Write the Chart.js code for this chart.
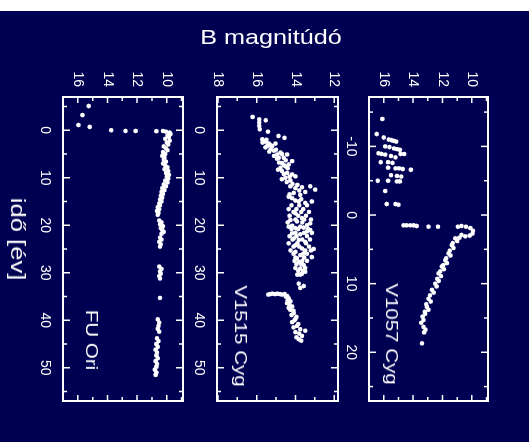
<!DOCTYPE html>
<html>
<head>
<meta charset="utf-8">
<script src="https://cdn.jsdelivr.net/npm/chart.js@4.4.0/dist/chart.umd.min.js"></script>
<style>
body { margin: 0; background: #fff; }
#stage { position: relative; width: 529px; height: 442px; overflow: hidden; }
#bg { position: absolute; left: 0; top: 11px; width: 529px; height: 431px; background: #000052; }
.panel { position: absolute; left: 0; top: 0; transform-origin: 0 0; }
.lbl { position: absolute; color: #fff; font-family: 'Liberation Sans', Arial, sans-serif; white-space: nowrap; line-height: 1; }
.rot { transform: translate(-50%, -50%) rotate(90deg) scaleX(1.28); }
</style>
</head>
<body>
<div id="stage">
  <div id="bg"></div>
  <canvas id="fuOri" class="panel" width="347" height="160" style="transform: translate(188px, 57px) rotate(90deg)"></canvas>
  <canvas id="v1515" class="panel" width="347" height="160" style="transform: translate(343px, 57px) rotate(90deg)"></canvas>
  <canvas id="v1057" class="panel" width="347" height="160" style="transform: translate(493px, 57px) rotate(90deg)"></canvas>
  <div class="lbl" style="left: 271px; top: 36px; font-size: 21px; transform: translate(-50%, -50%) scaleX(1.2)">B magnitúdó</div>
  <div class="lbl rot" style="left: 18px; top: 239px; font-size: 20px">idő [év]</div>
  <div class="lbl rot" style="left: 91px; top: 340px; font-size: 16px">FU Ori</div>
  <div class="lbl rot" style="left: 240px; top: 336px; font-size: 16px">V1515 Cyg</div>
  <div class="lbl rot" style="left: 391px; top: 334px; font-size: 16px">V1057 Cyg</div>
</div>
<script>
// tick values
const timeTicks = [0, 10, 20, 30, 40, 50];
const timeMinor = [-5, 5, 15, 25, 35, 45, 55];
const v1057TimeTicks = [-10, 0, 10, 20];
const v1057TimeMinor = [-15, -5, 5, 15, 25];
const magTicks = [16, 14, 12, 10];
const magMinor = [17, 15, 13, 11, 9];
const v1515MagTicks = [18, 16, 14, 12];
const v1515MagMinor = [17, 15, 13];

// FU Ori: years, B magnitude
const fuOriYears = [-5.1, -3.2, -1.1, -0.7, 0.0, 0.15, 0.15, 0.2, 0.15,
  0.3, 0.5, 0.8, 1.1, 1.4, 1.8, 2.2, 2.6, 3.0, 3.4, 3.8, 4.2, 4.6, 5.0, 5.4, 5.8, 6.2, 6.6, 7.0, 7.4, 7.8,
  8.2, 8.6, 9.0, 9.4, 9.8, 10.2, 10.6, 11.0, 11.4, 11.8, 12.2, 12.6, 13.0, 13.4, 13.8, 14.2, 14.6, 15.0,
  15.4, 15.8, 16.2, 16.6, 17.0, 17.4, 17.8, 19.0, 19.4, 19.8, 20.2, 20.6, 21.0, 21.4, 21.8, 22.6, 23.0,
  23.5, 24.0, 24.5, 28.7, 29.2, 29.7, 30.2, 30.7, 31.2, 35.3, 39.8, 40.5, 41.2, 41.8, 42.4, 43.8, 44.4,
  45.0, 45.6, 46.2, 46.8, 47.4, 48.0, 48.6, 49.2, 49.8, 50.4, 51.0, 51.5];
const fuOriMag = [15.27, 15.69, 15.96, 15.2, 13.75, 12.78, 12.1, 10.7, 10.25,
  10.05, 9.8, 9.75, 9.95, 9.85, 10.1, 9.8, 10.0, 9.9, 10.2, 10.05, 9.95, 10.25, 10.1, 10.3, 10.15, 10.2, 10.05, 10.25, 10.1, 9.95,
  10.15, 9.9, 10.05, 9.85, 10.0, 9.9, 10.1, 9.95, 10.2, 10.05, 10.3, 10.15, 10.35, 10.25, 10.4, 10.3, 10.45, 10.35,
  10.5, 10.45, 10.6, 10.5, 10.65, 10.55, 10.6, 10.5, 10.35, 10.45, 10.25, 10.4, 10.3, 10.2, 10.35, 10.45, 10.35,
  10.5, 10.4, 10.45, 10.5, 10.35, 10.45, 10.4, 10.5, 10.45, 10.45, 10.6, 10.5, 10.55, 10.6, 10.5, 10.65, 10.55,
  10.7, 10.6, 10.75, 10.65, 10.7, 10.6, 10.75, 10.65, 10.7, 10.8, 10.7, 10.75];

// V1515 Cyg
const v1515Years = [-2.8, -2.3, -1.6, -0.9, -0.2, -2.1, 0.3, 1.2, 1.6,
  1.9, 2.4, 2.8, 3.3, 2.8, 3.3, 4.0, 4.3, 5.1, 4.7, 5.8, 5.8, 5.1, 6.9, 7.6, 7.9, 7.2, 6.5,
  2.0, 2.6, 3.1, 3.6, 4.1, 4.5, 5.0, 5.4, 6.0, 6.3, 6.8, 7.3, 8.0, 8.3,
  8.6, 9.0, 9.3, 10.0, 9.7, 10.6, 9.2, 9.8, 10.3, 10.9, 11.3, 11.5,
  11.8, 12.2, 12.0, 11.8, 12.5, 13.2, 13.6, 13.0, 14.3, 15.0, 15.3, 15.0, 14.0, 12.7, 13.5, 14.5, 14.8,
  15.8, 15.8, 15.8, 16.6, 16.6, 16.6, 17.2, 17.2, 17.2, 17.5, 18.0, 18.0, 18.0, 18.5, 18.8, 18.8, 18.8, 18.9, 19.2,
  19.4, 19.4, 19.6, 20.0, 20.1, 20.3, 20.3, 20.5, 20.6, 20.8, 20.8, 20.8, 21.0, 21.3, 21.6, 21.6, 21.6, 21.7, 21.9,
  22.3, 22.3, 22.3, 22.8, 23.0, 23.0, 23.0, 23.1, 23.5, 23.8, 23.8, 23.8, 24.2, 24.5, 24.5, 24.5, 24.9, 25.0,
  25.3, 25.3, 25.3, 25.6, 26.0, 26.0, 26.0, 26.3, 26.7, 26.8, 26.8, 27.0, 27.5, 27.5, 27.5, 27.7, 28.2, 28.2, 28.4,
  29.0, 29.0, 29.1, 29.6, 29.6, 29.8, 30.2, 30.4, 30.4, 32.3, 32.8, 33.2,
  34.6, 34.4, 34.4, 34.6, 34.9, 34.5, 34.5, 34.5, 34.5,
  35.0, 35.4, 35.8, 36.0, 36.4, 36.8, 37.1, 37.4, 37.8, 38.0, 38.5, 38.9, 39.3, 39.7, 40.0, 40.4, 40.8,
  41.2, 41.5, 41.9, 42.2, 42.5, 42.8, 43.3, 43.6, 44.0, 44.3];
const v1515Mag = [16.21, 15.87, 15.87, 15.87, 15.84, 15.53, 15.42, 14.87, 14.56,
  15.71, 15.54, 15.37, 15.2, 15.03, 15.46, 15.28, 15.11, 14.94, 14.77, 14.86, 14.6, 14.43, 14.69, 14.51, 14.77, 14.35, 14.17,
  15.5, 15.7, 15.3, 15.55, 15.0, 15.35, 14.7, 15.1, 14.95, 14.5, 14.85, 14.6, 14.4, 14.9,
  14.69, 14.43, 14.17, 14.51, 14.0, 14.26, 14.6, 14.3, 14.7, 14.45, 14.15, 13.9,
  14.26, 14.0, 13.66, 13.23, 12.98, 14.09, 13.75, 13.49, 14.17, 13.83, 13.49, 13.15, 14.35, 13.8, 14.3, 13.7, 14.0,
  14.2, 13.8, 13.4, 14.35, 13.95, 13.6, 14.1, 13.7, 13.3, 14.0, 14.3, 13.85, 13.45, 13.66, 14.0, 13.55, 13.2, 14.26, 13.92,
  14.4, 13.65, 13.23, 13.4, 14.17, 13.75, 14.35, 13.57, 14.0, 14.2, 13.85, 13.35, 13.23, 13.4, 14.0, 13.55, 13.15, 14.17, 13.75,
  14.3, 13.95, 13.4, 14.09, 14.15, 13.65, 13.25, 13.83, 13.49, 14.35, 13.9, 13.45, 14.0, 14.1, 13.8, 13.3, 13.66, 13.06,
  14.25, 13.5, 13.2, 14.0, 14.1, 13.6, 13.4, 13.75, 13.15, 14.0, 13.55, 13.92, 14.05, 13.65, 13.4, 13.83, 13.95, 13.7, 13.57,
  14.0, 13.5, 13.75, 13.85, 13.6, 13.49, 13.66, 13.9, 13.75, 13.83, 13.57, 13.75,
  15.4, 15.2, 14.94, 14.69, 14.43, 15.3, 15.05, 14.8, 14.55,
  14.5, 14.35, 14.4, 14.25, 14.43, 14.3, 14.17, 14.35, 14.26, 14.1, 14.09, 14.2, 13.95, 14.0, 14.05, 14.17, 13.85,
  13.92, 14.1, 13.75, 13.49, 14.0, 13.8, 13.66, 13.95, 13.83, 13.7];

// V1057 Cyg
const v1057Years = [-14.0, -11.8, -11.3, -11.0, -10.9, -10.8, -10.7, -10.0, -9.9, -9.7, -9.6, -9.5,
  -9.0, -8.9, -8.8, -8.6, -8.4, -8.9, -8.9, -7.7, -7.7, -7.6, -6.9, -6.8, -6.8, -6.7, -6.6,
  -5.8, -5.7, -5.6, -5.0, -5.0, -4.9, -4.9, -3.5, -1.6, -1.6, -1.5,
  1.5, 1.5, 1.5, 1.5, 1.6, 1.7, 1.7,
  1.7, 1.6, 1.7, 1.9, 2.3, 2.7, 3.0, 3.1, 2.9, 3.3,
  3.4, 3.8, 4.1, 4.4, 4.8, 5.2, 5.6, 5.9, 6.3, 6.6, 7.0, 7.3, 7.5, 7.9, 8.2, 8.5, 8.9, 9.3, 9.6, 10.0,
  10.4, 10.9, 11.3, 11.7, 12.2, 12.6, 13.0, 13.4, 13.8, 14.1, 14.4, 14.8, 15.3, 15.7, 16.3, 16.7, 17.1, 18.7];
const v1057Mag = [16.09, 16.48, 16.0, 15.65, 15.45, 15.3, 15.15, 15.9, 15.6, 15.3, 15.1, 14.9,
  16.35, 16.15, 15.9, 15.5, 15.2, 14.85, 14.6, 16.2, 15.7, 15.4, 15.7, 15.2, 14.95, 14.7, 14.15,
  15.5, 15.1, 14.8, 16.4, 15.7, 15.1, 14.9, 15.9, 15.8, 15.2, 15.0,
  14.65, 14.45, 14.2, 13.95, 13.75, 12.95, 12.3,
  10.95, 10.7, 10.4, 10.1, 9.92, 9.95, 10.15, 10.45, 10.7, 10.85,
  11.13, 11.0, 11.3, 11.36, 11.25, 11.5, 11.59, 11.45, 11.75, 11.81, 11.7, 11.95, 12.04, 11.9, 12.15, 12.27, 12.1, 12.35, 12.25, 12.49,
  12.4, 12.72, 12.6, 12.85, 12.95, 12.8, 13.1, 13.06, 12.95, 13.2, 13.17, 13.35, 13.29, 13.45, 13.29, 13.15, 13.25, 13.39];

// frame with inward ticks on all four sides
const framePlugin = {
  id: 'frame',
  afterDraw(chart, args, opts) {
    const { ctx, chartArea: a, scales: { x, y } } = chart;
    ctx.save();
    ctx.strokeStyle = '#fff';
    ctx.lineWidth = 2;
    ctx.strokeRect(a.left, a.top, a.right - a.left, a.bottom - a.top);
    ctx.lineWidth = 1.5;
    ctx.beginPath();
    const xTick = (v, len) => {
      const px = x.getPixelForValue(v);
      ctx.moveTo(px, a.top); ctx.lineTo(px, a.top + len);
      ctx.moveTo(px, a.bottom); ctx.lineTo(px, a.bottom - len);
    };
    const yTick = (v, len) => {
      const py = y.getPixelForValue(v);
      ctx.moveTo(a.left, py); ctx.lineTo(a.left + len, py);
      ctx.moveTo(a.right, py); ctx.lineTo(a.right - len, py);
    };
    opts.xMajor.forEach(v => xTick(v, 7));
    opts.xMinor.forEach(v => xTick(v, 4));
    opts.yMajor.forEach(v => yTick(v, 6));
    opts.yMinor.forEach(v => yTick(v, 4));
    ctx.stroke();
    ctx.restore();
  }
};

function makePanel(id, years, mags, xMin, xMax, xTicks, xMinor, yMin, yMax, yTicks, yMinor, xh) {
  const points = years.map((t, i) => ({ x: t, y: mags[i] }));
  const tickFont = { family: "'Liberation Sans', Arial, sans-serif", size: 14 };
  return new Chart(document.getElementById(id), {
    type: 'scatter',
    data: {
      datasets: [{
        data: points,
        backgroundColor: '#fff',
        borderWidth: 0,
        pointRadius: 2.3,
        pointHoverRadius: 2.3
      }]
    },
    options: {
      responsive: false,
      animation: false,
      events: [],
      layout: { padding: { top: 5, right: 3, left: 0, bottom: 0 } },
      plugins: {
        legend: { display: false },
        tooltip: { enabled: false },
        frame: { xMajor: xTicks, xMinor: xMinor, yMajor: yTicks, yMinor: yMinor }
      },
      scales: {
        x: {
          type: 'linear',
          min: xMin,
          max: xMax,
          grid: { display: false, drawTicks: false },
          border: { display: false },
          afterBuildTicks: s => { s.ticks = xTicks.map(v => ({ value: v })); },
          afterFit: s => { s.height = xh; s.paddingLeft = 0; s.paddingRight = 0; },
          ticks: { color: '#fff', font: tickFont, padding: 10, maxRotation: 0, autoSkip: false }
        },
        y: {
          type: 'linear',
          reverse: true,
          min: yMin,
          max: yMax,
          grid: { display: false, drawTicks: false },
          border: { display: false },
          afterBuildTicks: s => { s.ticks = yTicks.map(v => ({ value: v })); },
          afterFit: s => { s.width = 40; s.paddingTop = 0; s.paddingBottom = 0; },
          ticks: { color: '#fff', font: tickFont, padding: 10, autoSkip: false }
        }
      }
    },
    plugins: [framePlugin]
  });
}

makePanel('fuOri', fuOriYears, fuOriMag, -7, 57, timeTicks, timeMinor, 8.9, 17, magTicks, magMinor, 35);
makePanel('v1515', v1515Years, v1515Mag, -7, 57, timeTicks, timeMinor, 11.8, 18.05, v1515MagTicks, v1515MagMinor, 34);
makePanel('v1057', v1057Years, v1057Mag, -17.2, 27.1, v1057TimeTicks, v1057TimeMinor, 8.9, 17, magTicks, magMinor, 36);
</script>
</body>
</html>
